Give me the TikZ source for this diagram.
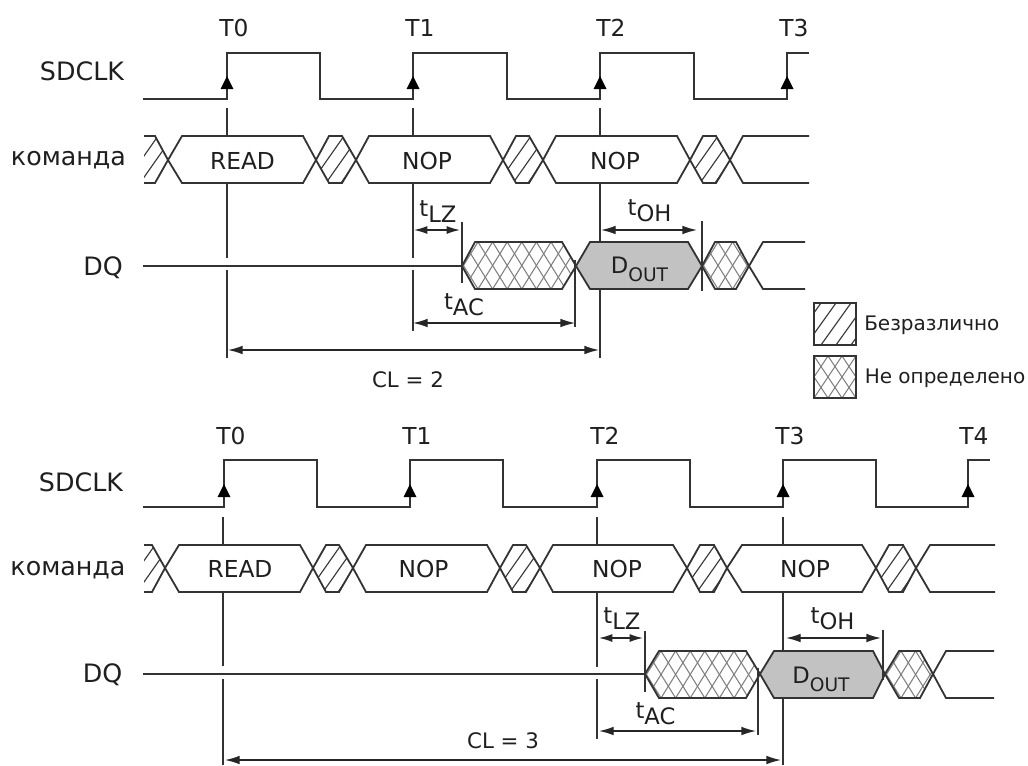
\documentclass[tikz,border=0pt]{standalone}
\usepackage{fontspec}
\setmainfont{DejaVu Sans}
\usetikzlibrary{arrows.meta}
\definecolor{ln}{gray}{0.2}
\definecolor{xh}{gray}{0.5}
\definecolor{dout}{gray}{0.76}
\newcommand\tsub[1]{t\raisebox{-5pt}{#1}}
\newcommand\dsub[1]{D\raisebox{-6pt}{\fontsize{14}{14}\selectfont #1}}
% hexagon: tipL, a, b, tipR, top, mid, bot
\newcommand\hexpath[7]{(#1,#6) -- (#2,#5) -- (#3,#5) -- (#4,#6) -- (#3,#7) -- (#2,#7) -- cycle}
\newcommand\dontcare[7]{%
  \begin{scope}\clip \hexpath{#1}{#2}{#3}{#4}{#5}{#6}{#7};
    \foreach \k in {-3,...,5} {\pgfmathsetmacro\xx{#1+\k*15-5}\pgfmathsetmacro\xy{\xx+33}
      \draw[hatchline] (\xx,#7) -- (\xy,#5);}
  \end{scope}}
\newcommand\undefd[8]{%
  \begin{scope}\clip \hexpath{#1}{#2}{#3}{#4}{#5}{#6}{#7};
    \foreach \k in {-3,...,#8} {\pgfmathsetmacro\xx{#1+\k*14.6+1.4}\pgfmathsetmacro\xy{\xx+29.2}
      \draw[crossline] (\xx,#7) -- (\xy,#5); \draw[crossline] (\xy,#7) -- (\xx,#5);}
  \end{scope}}
\tikzset{
  wave/.style={draw=ln,line width=1.35pt,line join=miter},
  thin line/.style={draw=ln,line width=1.2pt},
  hatchline/.style={draw=black!78,line width=0.85pt},
  crossline/.style={draw=xh,line width=0.8pt},
  dimline/.style={draw=black!85,line width=1pt,{Latex[length=11pt,width=6.5pt]}-{Latex[length=11pt,width=6.5pt]}},
  shortdim/.style={draw=black!85,line width=1pt,{Latex[length=10pt,width=6pt]}-{Latex[length=10pt,width=6pt]}},
  clockarrow/.style={draw=none,fill=black},
  lbl/.style={inner sep=0pt,anchor=base,text=black!88},
  sig/.style={lbl,font=\fontsize{19}{22}\selectfont},
  tick/.style={lbl,font=\fontsize{17.5}{20}\selectfont},
  clabel/.style={lbl,font=\fontsize{16}{19}\selectfont},
  cmd/.style={lbl,font=\fontsize{17.5}{20}\selectfont},
  timing/.style={lbl,font=\fontsize{17}{20}\selectfont},
  legendtxt/.style={inner sep=0pt,anchor=base west,font=\fontsize{15}{18}\selectfont,text=black!88},
  legendbox/.style={draw=ln,line width=1.3pt}
}
\newcommand\clktip[2]{\path[clockarrow] (#1,#2) -- (#1+6.5,#2+13) -- (#1-6.5,#2+13) -- cycle;}
\begin{document}
\begin{tikzpicture}[x=0.75pt,y=-0.75pt]
\useasboundingbox (0,0) rectangle (1028,765);
% ===== top diagram =====
\node[tick] (t0a) at (234,36) {T0};
\node[tick] (t1a) at (420,36) {T1};
\node[tick] (t2a) at (611,36) {T2};
\node[tick] (t3a) at (794,36) {T3};
\node[sig] (clka) at (82,80) {SDCLK};
\node[sig] (cmda) at (68.5,165) {команда};
\node[sig] (dqa) at (103,275) {DQ};
% clock
\draw[wave] (143,99) -- (227,99) -- (227,53) -- (320,53) -- (320,99) -- (413,99) -- (413,53) -- (507,53) -- (507,99) -- (600,99) -- (600,53) -- (694,53) -- (694,99) -- (787,99) -- (787,53) -- (809,53);
\foreach \x in {227,413,600,787} {\clktip{\x}{76}}
% references
\draw[thin line] (227,108) -- (227,136) (227,183) -- (227,258) (227,270) -- (227,358);
\draw[thin line] (413,108) -- (413,136) (413,183) -- (413,258) (413,270) -- (413,331);
\draw[thin line] (600,108) -- (600,136) (600,183) -- (600,242) (600,289) -- (600,358);
% command bus
\begin{scope}
\clip (144,130) rectangle (820,190);
\dontcare{115}{129}{155}{168}{136}{160}{183}
\draw[wave] \hexpath{115}{129}{155}{168}{136}{160}{183};
\end{scope}
\dontcare{316}{329}{342}{356}{136}{160}{183}
\dontcare{503}{516}{529}{543}{136}{160}{183}
\dontcare{690}{703}{716}{730}{136}{160}{183}
\draw[wave] \hexpath{168}{182}{303}{316}{136}{160}{183};
\draw[wave] \hexpath{316}{329}{342}{356}{136}{160}{183};
\draw[wave] \hexpath{356}{369}{490}{503}{136}{160}{183};
\draw[wave] \hexpath{503}{516}{529}{543}{136}{160}{183};
\draw[wave] \hexpath{543}{556}{677}{690}{136}{160}{183};
\draw[wave] \hexpath{690}{703}{716}{730}{136}{160}{183};
\draw[wave] (809,136) -- (743,136) -- (730,160) -- (743,183) -- (809,183);
\node[cmd] (cmdA1) at (242.5,169) {READ};
\node[cmd] (cmdA2) at (427,169) {NOP};
\node[cmd] (cmdA3) at (615,169) {NOP};
% DQ
\draw[wave] (143,266) -- (462,266);
\undefd{462}{475}{562}{576}{242}{266}{289}{8}
\draw[wave] \hexpath{462}{475}{562}{576}{242}{266}{289};
\draw[wave,fill=dout] \hexpath{576}{590}{688}{702}{242}{266}{289};
\node[timing] (douta) at (639.5,273) {\dsub{OUT}};
\undefd{702}{715}{736}{749}{242}{266}{289}{4}
\draw[wave] \hexpath{702}{715}{736}{749}{242}{266}{289};
\draw[wave] (805,242) -- (763,242) -- (749,266) -- (763,289) -- (805,289);
% timing marks
\draw[thin line] (462,222) -- (462,283);
\draw[thin line] (575,260) -- (575,327);
\draw[thin line] (702,221) -- (702,291);
\coordinate (a1) at (414,230); \coordinate (a2) at (460,230);
\draw[shortdim] (a1) -- (a2);
\node[timing] (tlza) at (438,216) {\tsub{LZ}};
\coordinate (a3) at (601,230); \coordinate (a4) at (697,230);
\draw[dimline] (a3) -- (a4);
\node[timing] (toha) at (649.5,215) {\tsub{OH}};
\coordinate (a5) at (413,323); \coordinate (a6) at (575,323);
\draw[dimline] (a5) -- (a6);
\node[timing] (taca) at (464,309) {\tsub{AC}};
\coordinate (a7) at (228,350); \coordinate (a8) at (599,350);
\draw[dimline] (a7) -- (a8);
\node[clabel] (cla) at (408,387) {CL = 2};
% legend
\begin{scope}\clip (814,303) rectangle (856,345);
\foreach \k in {-1,...,3} {\pgfmathsetmacro\xx{806+\k*15}\pgfmathsetmacro\xy{\xx+30}
  \draw[hatchline] (\xx,345) -- (\xy,303);}
\end{scope}
\begin{scope}\clip (814,356) rectangle (856,398);
\foreach \k in {-3,...,4} {\pgfmathsetmacro\xx{814+\k*14}\pgfmathsetmacro\xy{\xx+28}
  \draw[crossline] (\xx,398) -- (\xy,356); \draw[crossline] (\xy,398) -- (\xx,356);}
\end{scope}
\draw[legendbox] (814,303) rectangle (856,345);
\draw[legendbox] (814,356) rectangle (856,398);
\node[legendtxt] (lg1) at (864,330) {Безразлично};
\node[legendtxt] (lg2) at (864.5,383) {Не определено};
% ===== bottom diagram =====
\node[tick] (t0b) at (231,444) {T0};
\node[tick] (t1b) at (417,444) {T1};
\node[tick] (t2b) at (605,444) {T2};
\node[tick] (t3b) at (790,444) {T3};
\node[tick] (t4b) at (974,444) {T4};
\node[sig] (clkb) at (81,491) {SDCLK};
\node[sig] (cmdb) at (68,575) {команда};
\node[sig] (dqb) at (102.5,682) {DQ};
\draw[wave] (143,507) -- (224,507) -- (224,460) -- (317,460) -- (317,507) -- (410,507) -- (410,460) -- (503,460) -- (503,507) -- (597,507) -- (597,460) -- (690,460) -- (690,507) -- (783,507) -- (783,460) -- (876,460) -- (876,507) -- (968,507) -- (968,460) -- (990,460);
\foreach \x in {224,410,597,783,968} {\clktip{\x}{484}}
\draw[thin line] (223,517) -- (223,545) (223,592) -- (223,666) (223,679) -- (223,765);
\draw[thin line] (597,517) -- (597,545) (597,592) -- (597,667) (597,679) -- (597,739);
\draw[thin line] (783,517) -- (783,545) (783,592) -- (783,651) (783,698) -- (783,765);
\begin{scope}
\clip (144,540) rectangle (1000,600);
\dontcare{112}{126}{152}{165}{545}{568}{592}
\draw[wave] \hexpath{112}{126}{152}{165}{545}{568}{592};
\end{scope}
\dontcare{313}{326}{339}{353}{545}{568}{592}
\dontcare{500}{513}{526}{540}{545}{568}{592}
\dontcare{687}{700}{714}{727}{545}{568}{592}
\dontcare{876}{889}{903}{916}{545}{568}{592}
\draw[wave] \hexpath{165}{179}{300}{313}{545}{568}{592};
\draw[wave] \hexpath{313}{326}{339}{353}{545}{568}{592};
\draw[wave] \hexpath{353}{366}{487}{500}{545}{568}{592};
\draw[wave] \hexpath{500}{513}{526}{540}{545}{568}{592};
\draw[wave] \hexpath{540}{553}{673}{687}{545}{568}{592};
\draw[wave] \hexpath{687}{700}{714}{727}{545}{568}{592};
\draw[wave] \hexpath{727}{742}{862}{876}{545}{568}{592};
\draw[wave] \hexpath{876}{889}{903}{916}{545}{568}{592};
\draw[wave] (995,545) -- (930,545) -- (916,568) -- (930,592) -- (995,592);
\node[cmd] (cmdB1) at (240,577) {READ};
\node[cmd] (cmdB2) at (423.5,577) {NOP};
\node[cmd] (cmdB3) at (617,577) {NOP};
\node[cmd] (cmdB4) at (805,577) {NOP};
\draw[wave] (143,674) -- (645,674);
\undefd{645}{659}{746}{760}{651}{674}{698}{8}
\draw[wave] \hexpath{645}{659}{746}{760}{651}{674}{698};
\draw[wave,fill=dout] \hexpath{760}{774}{873}{885}{651}{674}{698};
\node[timing] (doutb) at (821,683) {\dsub{OUT}};
\undefd{885}{899}{920}{933}{651}{674}{698}{4}
\draw[wave] \hexpath{885}{899}{920}{933}{651}{674}{698};
\draw[wave] (994,651) -- (946,651) -- (933,674) -- (946,698) -- (994,698);
\draw[thin line] (645,631) -- (645,692);
\draw[thin line] (758,668) -- (758,735);
\draw[thin line] (883,630) -- (883,680);
\coordinate (b1) at (599,638); \coordinate (b2) at (643,638);
\draw[shortdim] (b1) -- (b2);
\node[timing] (tlzb) at (622,623) {\tsub{LZ}};
\coordinate (b3) at (786,638); \coordinate (b4) at (881,638);
\draw[dimline] (b3) -- (b4);
\node[timing] (tohb) at (832.5,623) {\tsub{OH}};
\coordinate (b5) at (599,731); \coordinate (b6) at (756,731);
\draw[dimline] (b5) -- (b6);
\node[timing] (tacb) at (655.5,718) {\tsub{AC}};
\coordinate (b7) at (225,760); \coordinate (b8) at (781,760);
\draw[dimline] (b7) -- (b8);
\node[clabel] (clb) at (503,748) {CL = 3};
\end{tikzpicture}
\end{document}
